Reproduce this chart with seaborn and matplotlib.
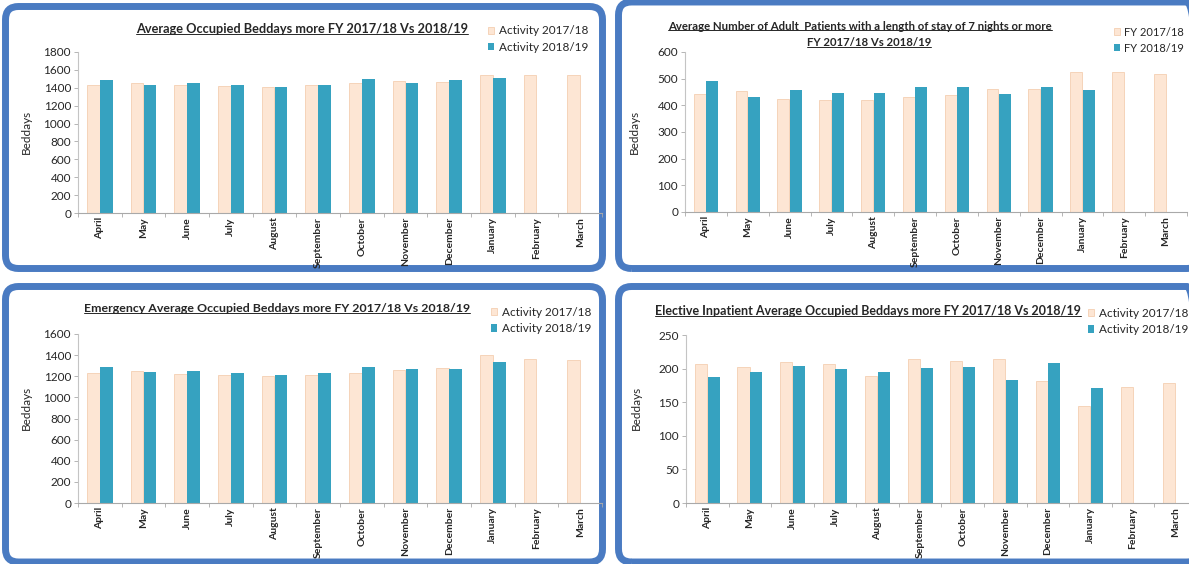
import numpy as np
import pandas as pd
import matplotlib
matplotlib.use("Agg")
import matplotlib.pyplot as plt
import seaborn as sns
from matplotlib.patches import FancyBboxPatch, Patch
from matplotlib.lines import Line2D
from matplotlib.transforms import IdentityTransform
from matplotlib.ticker import MultipleLocator, FixedLocator

# ---------------- data ----------------
months = ["April", "May", "June", "July", "August", "September", "October",
          "November", "December", "January", "February", "March"]

occ_1718 = [1435, 1453, 1435, 1420, 1405, 1435, 1453, 1472, 1465, 1540, 1540, 1540]
occ_1819 = [1483, 1435, 1457, 1431, 1409, 1435, 1502, 1453, 1487, 1513, None, None]

los_1718 = [444, 455, 424, 421, 421, 432, 437, 461, 461, 524, 524, 517]
los_1819 = [490, 432, 459, 447, 447, 469, 469, 444, 469, 456, None, None]

emg_1718 = [1228, 1247, 1219, 1210, 1206, 1216, 1235, 1260, 1279, 1402, 1367, 1351]
emg_1819 = [1285, 1241, 1247, 1228, 1213, 1228, 1291, 1266, 1273, 1339, None, None]

ele_1718 = [207, 202, 210, 207, 189, 215, 211, 214, 182, 144, 172, 178]
ele_1819 = [188, 195, 204, 199, 195, 201, 202, 183, 208, 171, None, None]

titles = [
    ["Average Occupied Beddays more FY 2017/18 Vs 2018/19"],
    ["Average Number of Adult  Patients with a length of stay of 7 nights or more",
     "FY 2017/18 Vs 2018/19"],
    ["Emergency Average Occupied Beddays more FY 2017/18 Vs 2018/19"],
    ["Elective Inpatient Average Occupied Beddays more FY 2017/18 Vs 2018/19"],
]
legend_labels = [
    ["Activity 2017/18", "Activity 2018/19"],
    ["FY 2017/18", "FY 2018/19"],
    ["Activity 2017/18", "Activity 2018/19"],
    ["Activity 2017/18", "Activity 2018/19"],
]
y_label = "Beddays"
y_max = [1800, 600, 1600, 250]
y_step = [200, 100, 200, 50]

# ---------------- style ----------------
sns.set_theme(style="white")
plt.rcParams["font.family"] = ["Lato", "DejaVu Sans"]

W, H = 1189, 564
fig = plt.figure(figsize=(W / 100, H / 100), dpi=100)
fig.patch.set_facecolor("white")

PEACH = "#fde6d4"
PEACH_EDGE = "#f4cfb2"
TEAL = "#36a2c0"
BORDER = "#4a7bc2"
TXT = "#262626"


def px_axes(l, t, r, b):
    return fig.add_axes([l / W, 1 - b / H, (r - l) / W, (b - t) / H])


def fy(y):
    return 1 - y / H


# panel borders (pixel coords, y from top)
panels = [(5.5, 6.5, 602.5, 268.5), (618.5, 2.0, 1200, 268.5),
          (5.5, 286.5, 602.5, 562.0), (618.5, 286.5, 1200, 562.0)]
for (l, t, r, b) in panels:
    p = FancyBboxPatch((l, H - b), r - l, b - t,
                       boxstyle="round,pad=0,rounding_size=13",
                       transform=IdentityTransform(), facecolor="none",
                       edgecolor=BORDER, linewidth=5.0, zorder=0)
    fig.add_artist(p)

axes_boxes = [(78, 52, 602, 213), (685, 52, 1187, 212),
              (78, 334, 602, 503), (686, 335, 1197, 503)]
series = [(occ_1718, occ_1819), (los_1718, los_1819),
          (emg_1718, emg_1819), (ele_1718, ele_1819)]
ylabel_pos = [(26, 132), (634, 132), (26, 408), (636, 408)]
title_specs = [  # (center x, center y, target width)
    [(302, 29, 331)],
    [(860, 26, 381), (869, 43, None)],
    [(277, 309, 387)],
    [(868, 311, 426)],
]
legend_anchor = [(488, 39), (1114, 40), (491, 320.5), (1088, 321.5)]
legend_fs = [8.5, 8.0, 8.5, 8.5]

title_texts = []
for i in range(4):
    a, b = series[i]
    df = pd.DataFrame({
        "month": months * 2,
        "value": list(a) + list(b),
        "series": ["s1"] * 12 + ["s2"] * 12,
    }).dropna()
    ax = px_axes(*axes_boxes[i])
    sns.barplot(data=df, x="month", y="value", hue="series", order=months,
                hue_order=["s1", "s2"], palette=[PEACH, TEAL], width=0.6,
                gap=0.05, errorbar=None, legend=False, ax=ax, saturation=1)
    for patch in ax.patches:
        fc = matplotlib.colors.to_hex(patch.get_facecolor())
        if fc.lower() == PEACH:
            patch.set_edgecolor(PEACH_EDGE)
            patch.set_linewidth(0.6)
        else:
            patch.set_linewidth(0)
    ax.set_xlim(-0.5, 11.5)
    ax.set_ylim(0, y_max[i])
    ax.yaxis.set_major_locator(MultipleLocator(y_step[i]))
    ax.set_xlabel("")
    ax.set_ylabel("")
    ax.set_facecolor("none")
    for s in ["top", "right"]:
        ax.spines[s].set_visible(False)
    ax.spines["left"].set_color("#c4c4c4")
    ax.spines["bottom"].set_color("#a9a9a9")
    ax.spines["left"].set_linewidth(0.8)
    ax.spines["bottom"].set_linewidth(0.8)
    ax.tick_params(axis="y", which="major", length=3, width=0.6, color="#a9a9a9",
                   labelsize=8.5, labelcolor=TXT, pad=2, left=True)
    ax.xaxis.set_minor_locator(FixedLocator(np.arange(-0.5, 12, 1.0)))
    ax.tick_params(axis="x", which="major", length=0, pad=3, labelsize=7.5,
                   labelcolor=TXT, bottom=True)
    ax.tick_params(axis="x", which="minor", length=3, width=0.6,
                   color="#a9a9a9", bottom=True)
    ax.set_xticks(range(12))
    ax.set_xticklabels(months, rotation=90, fontweight="bold", va="top")
    fig.text(ylabel_pos[i][0] / W, fy(ylabel_pos[i][1]), y_label, rotation=90,
             ha="center", va="center", fontsize=8.5, color=TXT)

    # legend
    handles = [Patch(facecolor=PEACH, edgecolor=PEACH_EDGE, linewidth=0.6),
               Patch(facecolor=TEAL, edgecolor=TEAL, linewidth=0)]
    lx, ly = legend_anchor[i]
    ax.legend(handles=handles, labels=legend_labels[i], loc="center left",
              bbox_to_anchor=(lx / W, fy(ly)), bbox_transform=fig.transFigure,
              frameon=False, fontsize=legend_fs[i], handlelength=0.55,
              handleheight=0.55, handletextpad=0.35, labelspacing=0.45,
              borderpad=0, borderaxespad=0, labelcolor=TXT)

    # titles
    ts = []
    for (cx, cy, tw), s in zip(title_specs[i], titles[i]):
        t = fig.text(cx / W, fy(cy), s, ha="center", va="center", fontsize=9,
                     fontweight="bold", color=TXT)
        ts.append((t, tw))
    title_texts.append(ts)

fig.canvas.draw()
renderer = fig.canvas.get_renderer()
for ts in title_texts:
    base = None
    for t, tw in ts:
        if tw is not None:
            w = t.get_window_extent(renderer).width
            base = 9 * tw / w
        t.set_fontsize(base)
fig.canvas.draw()
for ts in title_texts:
    for t, _ in ts:
        bb = t.get_window_extent(renderer)
        y = bb.y0 + 1.5
        fig.add_artist(Line2D([bb.x0, bb.x1], [y, y], color=TXT, linewidth=0.7,
                              transform=IdentityTransform()))

fig.savefig("out.png", dpi=100)
